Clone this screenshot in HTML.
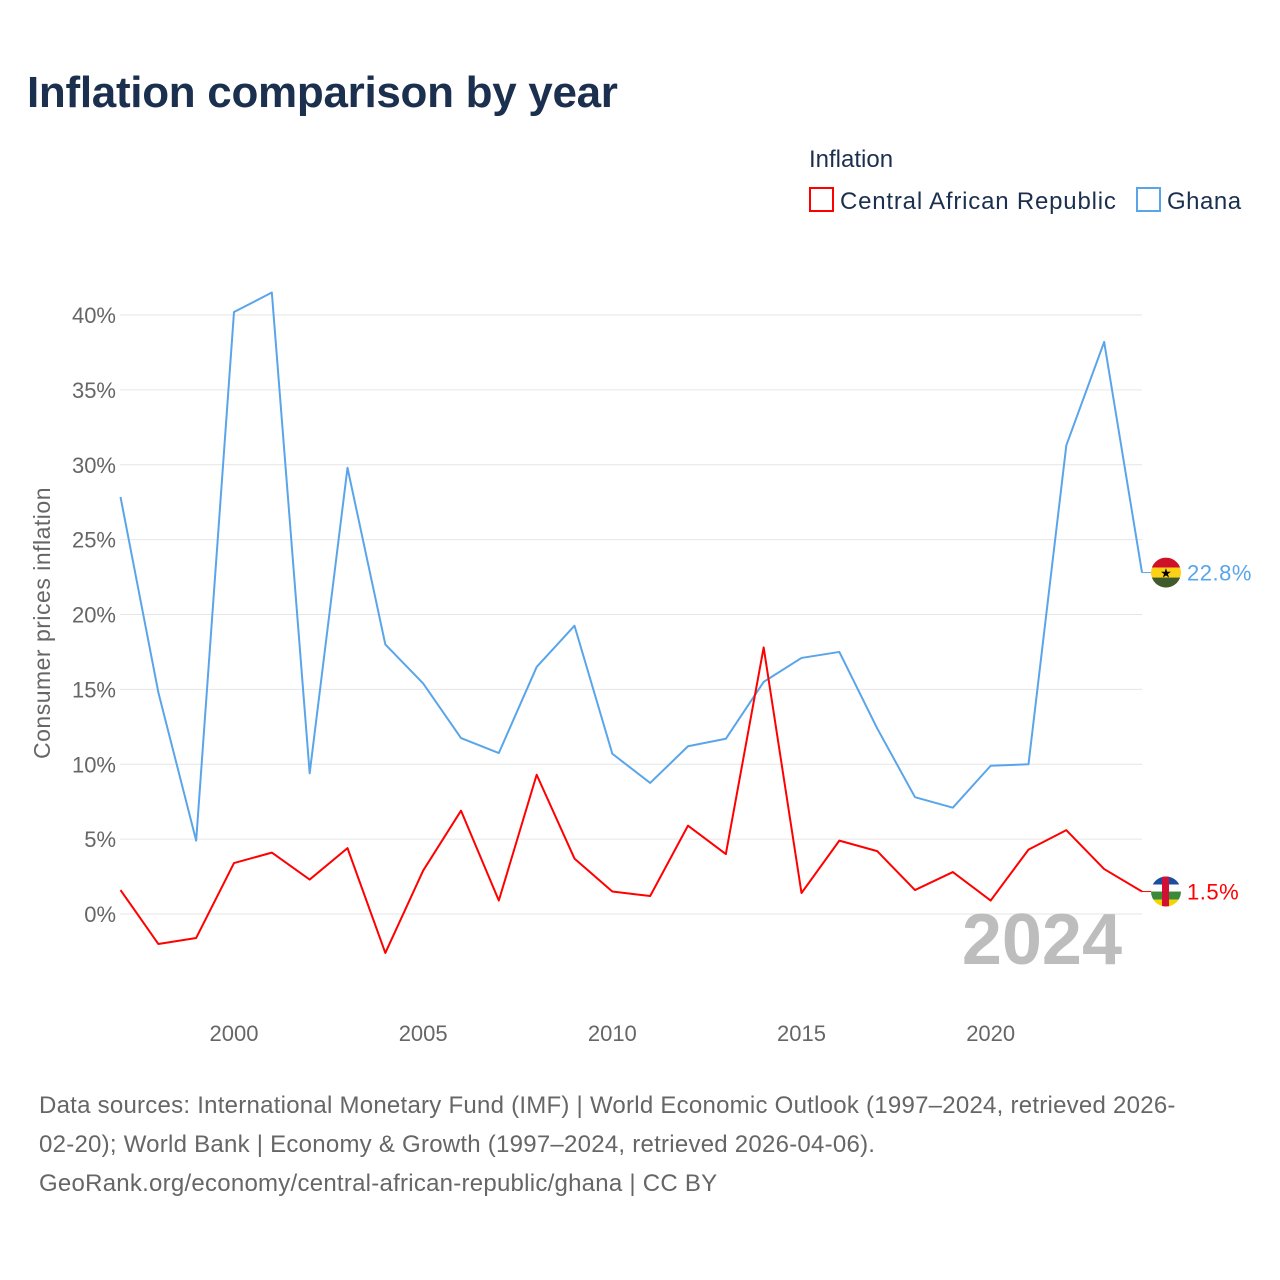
<!DOCTYPE html>
<html><head><meta charset="utf-8"><style>
body{margin:0;background:#fff;font-family:"Liberation Sans",sans-serif;}
#wrap{position:relative;width:1280px;height:1280px;overflow:hidden;}
h1{position:absolute;left:27px;top:68px;margin:0;font-size:44px;font-weight:bold;color:#1b2f4e;letter-spacing:-0.3px;}
.src{position:absolute;left:39px;top:1086px;width:1230px;font-size:24px;line-height:39px;color:#666;letter-spacing:0.25px;white-space:nowrap;}
</style></head><body>
<div id="wrap">
<h1>Inflation comparison by year</h1>
<svg id="chart" width="1280" height="1280" style="position:absolute;left:0;top:0"></svg>
<div class="src">Data sources: International Monetary Fund (IMF) | World Economic Outlook (1997–2024, retrieved 2026-<br>02-20); World Bank | Economy &amp; Growth (1997–2024, retrieved 2026-04-06).<br>GeoRank.org/economy/central-african-republic/ghana | CC BY</div>
</div>
<script>
const years=[1997,1998,1999,2000,2001,2002,2003,2004,2005,2006,2007,2008,2009,2010,2011,2012,2013,2014,2015,2016,2017,2018,2019,2020,2021,2022,2023,2024];
const ghana=[27.85,14.8,4.9,40.2,41.5,9.4,29.8,18.0,15.4,11.75,10.75,16.5,19.25,10.7,8.75,11.2,11.7,15.5,17.1,17.5,12.4,7.8,7.1,9.9,10.0,31.3,38.2,22.8];
const car=[1.6,-2.0,-1.6,3.4,4.1,2.3,4.4,-2.6,2.9,6.9,0.9,9.3,3.7,1.5,1.2,5.9,4.0,17.8,1.4,4.9,4.2,1.6,2.8,0.9,4.3,5.6,3.0,1.5];
const yTicks=[0,5,10,15,20,25,30,35,40];
const xTicks=[2000,2005,2010,2015,2020];
const NS="http://www.w3.org/2000/svg";
const svg=document.getElementById('chart');
const X=y=>120.5+(y-1997)*(1142-120.5)/27;
const Y=v=>914-v*14.975;
function el(t,a,txt){const e=document.createElementNS(NS,t);for(const k in a)e.setAttribute(k,a[k]);if(txt!==undefined)e.textContent=txt;svg.appendChild(e);return e;}
const F='"Liberation Sans",sans-serif';
yTicks.forEach(v=>{
 const l=el('line',{x1:120,x2:1142,y1:Y(v),y2:Y(v),stroke:'#e6e6e6','stroke-width':1});
 
 const t=el('text',{x:116,y:Y(v)+8,'text-anchor':'end','font-size':22,fill:'#666','font-family':F},v+'%');
 
});
xTicks.forEach(v=>{
 const t=el('text',{x:X(v),y:1041,'text-anchor':'middle','font-size':22,fill:'#666','font-family':F},v);
 
});
const yt=el('text',{x:0,y:0,transform:'translate(50,623) rotate(-90)','text-anchor':'middle','font-size':23,fill:'#666','font-family':F,'letter-spacing':'0.5'},'Consumer prices inflation');

const wm=el('text',{x:1122,y:964,'text-anchor':'end','font-size':72,'font-weight':'bold',fill:'#bdbdbd','font-family':F},'2024');

function series(d,c,name){
 const p=el('polyline',{points:d.map((v,i)=>X(years[i])+','+Y(v)).join(' '),fill:'none',stroke:c,'stroke-width':2,'stroke-linejoin':'round'});
 
 const last=d[d.length-1];
 const s=el('line',{x1:1142,x2:1152,y1:Y(last),y2:Y(last),stroke:c,'stroke-width':1});
 
 const t=el('text',{x:1187,y:Y(last)+8,'font-size':22,fill:c,'font-family':F,'letter-spacing':'0.5'},last+'%');
 
 return Y(last);
}
const gy=series(ghana,'#5aa5ea','ghana');
const cy=series(car,'#ff0000','car');
const g=document.createElementNS(NS,'g');svg.appendChild(g);

g.innerHTML=`<clipPath id="cg"><circle cx="1166" cy="${gy}" r="15"/></clipPath><g clip-path="url(#cg)"><rect x="1150" y="${gy-15}" width="32" height="10" fill="#ce1126"/><rect x="1150" y="${gy-5}" width="32" height="10" fill="#fcd116"/><rect x="1150" y="${gy+5}" width="32" height="10" fill="#3f5b2b"/></g><text x="1166" y="${gy+5}" text-anchor="middle" font-size="13" fill="#000">★</text>`;
const c=document.createElementNS(NS,'g');svg.appendChild(c);

c.innerHTML=`<clipPath id="cc"><circle cx="1166" cy="${cy}" r="15"/></clipPath><g clip-path="url(#cc)"><rect x="1150" y="${cy-15}" width="32" height="8" fill="#1a4fa0"/><rect x="1150" y="${cy-7}" width="32" height="7" fill="#fff"/><rect x="1150" y="${cy}" width="32" height="8" fill="#3a8a3a"/><rect x="1150" y="${cy+8}" width="32" height="8" fill="#f5d400"/><rect x="1162" y="${cy-15}" width="7" height="30" fill="#d21034"/></g>`;
const lg=document.createElementNS(NS,'g');svg.appendChild(lg);

lg.innerHTML=`<text x="809" y="167" font-size="24" fill="#1b2f4e" font-family='${F}'>Inflation</text>
<g><rect x="810" y="188" width="23" height="23" fill="none" stroke="#ff0000" stroke-width="2"/><text x="840" y="209" font-size="24" fill="#1b2f4e" font-family='${F}' letter-spacing="0.8">Central African Republic</text></g>
<g><rect x="1137" y="188" width="23" height="23" fill="none" stroke="#5aa5ea" stroke-width="2"/><text x="1167" y="209" font-size="24" fill="#1b2f4e" font-family='${F}' letter-spacing="0.5">Ghana</text></g>`;
</script>
</body></html>
